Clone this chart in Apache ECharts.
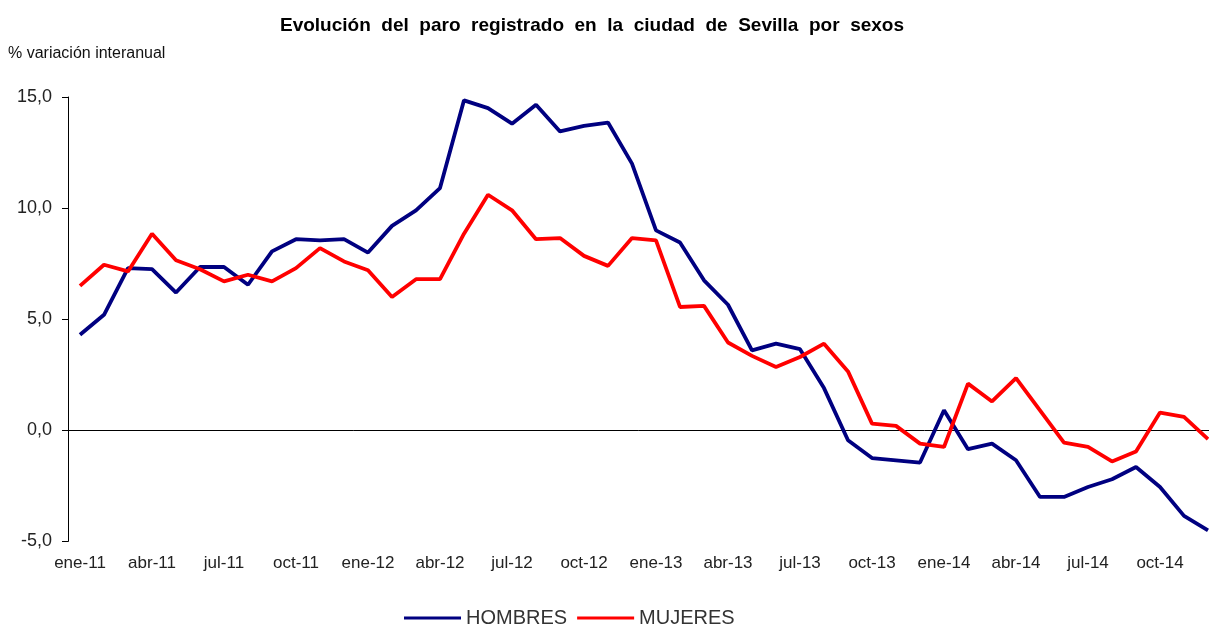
<html>
<head>
<meta charset="utf-8">
<script src="https://cdn.jsdelivr.net/npm/echarts@6/dist/echarts.min.js"></script>
<style>
    html, body { margin: 0; padding: 0; background: #fff; }
    #main { width: 1209px; height: 626px; }
</style>
</head>
<body>
<div id="main"></div>
<script>
    var years = ['11', '12', '13', '14'];
    var monthNames = ['ene', 'feb', 'mar', 'abr', 'may', 'jun', 'jul', 'ago', 'sep', 'oct', 'nov', 'dic'];
    var months = [];
    years.forEach(function (y) {
        monthNames.forEach(function (m) {
            months.push(m + '-' + y);
        });
    });

    var hombres = [
        4.3, 5.2, 7.3, 7.25, 6.2, 7.35, 7.35, 6.55, 8.05, 8.6, 8.55, 8.6,
        8.0, 9.2, 9.9, 10.9, 14.85, 14.5, 13.8, 14.65, 13.45, 13.7, 13.85, 12.0,
        9.0, 8.45, 6.75, 5.65, 3.6, 3.9, 3.65, 1.9, -0.45, -1.25, -1.35, -1.45,
        0.9, -0.85, -0.6, -1.35, -3.0, -3.0, -2.55, -2.2, -1.65, -2.55, -3.85, -4.5
    ];
    var mujeres = [
        6.5, 7.45, 7.15, 8.85, 7.65, 7.25, 6.7, 7.0, 6.7, 7.3, 8.2, 7.6,
        7.2, 6.0, 6.8, 6.8, 8.85, 10.6, 9.9, 8.6, 8.65, 7.85, 7.4, 8.65,
        8.55, 5.55, 5.6, 3.95, 3.35, 2.85, 3.3, 3.9, 2.65, 0.3, 0.2, -0.6,
        -0.75, 2.1, 1.3, 2.35, 0.9, -0.55, -0.75, -1.4, -0.95, 0.8, 0.6, -0.4
    ];

    var chart = echarts.init(document.getElementById('main'));
    var option = {
        animation: false,
        textStyle: { fontFamily: 'Liberation Sans, Arial, sans-serif' },
        title: [
            {
                // the original leaves wide gaps between words
                text: 'Evolución  del  paro  registrado  en  la  ciudad  de  Sevilla  por  sexos',
                left: 587,
                top: 11,
                textAlign: 'center',
                textStyle: { fontSize: 19, fontWeight: 'bold', color: '#000' }
            },
            {
                text: '% variación interanual',
                left: 3,
                top: 41,
                textStyle: { fontSize: 16, fontWeight: 'normal', color: '#111' }
            }
        ],
        legend: {
            left: 399,
            top: 603,
            icon: 'rect',
            itemWidth: 57,
            itemHeight: 3,
            itemGap: 10,
            textStyle: { fontSize: 20, color: '#333' },
            data: ['HOMBRES', 'MUJERES']
        },
        grid: {
            left: 68,
            top: 97,
            width: 1152,
            height: 444.4,
            outerBoundsMode: 'none'
        },
        xAxis: [
            {
                type: 'category',
                data: months,
                axisLine: { onZero: true, lineStyle: { color: '#000', width: 1 } },
                axisTick: { interval: 2, length: 6, lineStyle: { color: '#000' } },
                axisLabel: { show: false },
                splitLine: { show: false }
            },
            {
                type: 'category',
                data: months,
                position: 'bottom',
                axisLine: { show: false, onZero: false },
                axisTick: { show: false },
                axisLabel: { interval: 2, fontSize: 17, color: '#222', margin: 13 }
            }
        ],
        yAxis: {
            type: 'value',
            min: -5,
            max: 15,
            interval: 5,
            axisLine: { show: true, lineStyle: { color: '#000' } },
            axisTick: { show: true, length: 6, lineStyle: { color: '#000' } },
            axisLabel: {
                fontSize: 18,
                color: '#222',
                margin: 16,
                formatter: function (v) { return v.toFixed(1).replace('.', ','); }
            },
            splitLine: { show: false }
        },
        series: [
            {
                name: 'HOMBRES',
                type: 'line',
                data: hombres,
                symbol: 'none',
                color: '#000080',
                lineStyle: { width: 3.8, color: '#000080' }
            },
            {
                name: 'MUJERES',
                type: 'line',
                data: mujeres,
                symbol: 'none',
                color: '#ff0000',
                lineStyle: { width: 3.8, color: '#ff0000' }
            }
        ]
    };
    chart.setOption(option);
</script>
</body>
</html>
